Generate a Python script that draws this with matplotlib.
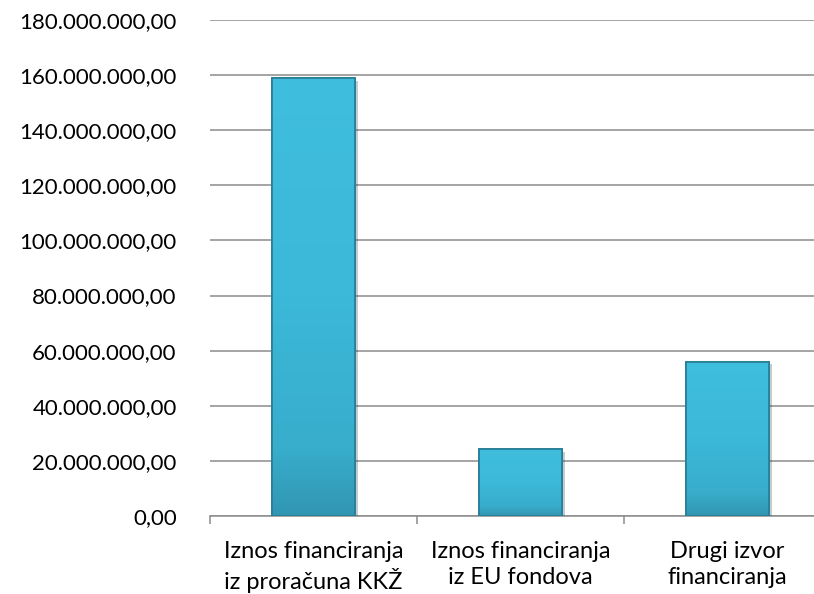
import numpy as np
import matplotlib.pyplot as plt
import matplotlib.patheffects as pe
from matplotlib.colors import LinearSegmentedColormap
from matplotlib.ticker import FuncFormatter

# data
categories = ["Iznos financiranja\niz proračuna KKŽ",
              "Iznos financiranja\niz EU fondova",
              "Drugi izvor\nfinanciranja"]
values = [158900000, 24400000, 56000000]

plt.rcParams['font.family'] = ['Lato', 'DejaVu Sans']

def fmt(v, pos):
    s = f"{v:,.2f}"
    return s.replace(",", "X").replace(".", ",").replace("X", ".")

fig = plt.figure(figsize=(8.14, 5.94), dpi=100)
ax = fig.add_axes([210/814, 1-516/594, 621/814, 496/594])

x = range(len(categories))
bars = ax.bar(x, values, width=0.4, color="#3CBBDB", edgecolor="#2B7F98",
              linewidth=1.3, zorder=3)

# mostly flat fill, a bit darker towards the base
cmap = LinearSegmentedColormap.from_list(
    "bar", [(0, "#3196B2"), (0.15, "#38ADCC"), (0.5, "#3CB8D8"), (1, "#40BEDE")])
grad = np.linspace(0, 1, 256).reshape(-1, 1)
for b in bars:
    b.set_path_effects([pe.SimplePatchShadow(offset=(2, -2), alpha=0.25), pe.Normal()])
    x0, w, h = b.get_x(), b.get_width(), b.get_height()
    im = ax.imshow(grad, cmap=cmap, origin="lower", aspect="auto",
                   extent=[x0, x0 + w, 0, h], zorder=3.5)
    im.set_clip_path(b)
    ax.bar(b.get_x() + w / 2, h, width=w, fill=False, edgecolor="#2B7F98",
           linewidth=1.3, zorder=4)

ax.set_xlim(-0.5, 2.5)
ax.set_ylim(0, 180000000)
ax.set_yticks(range(0, 180000001, 20000000))
ax.yaxis.set_major_formatter(FuncFormatter(fmt))
ax.yaxis.grid(True, color="#8c8c8c", linewidth=1.1, zorder=0)

ax.set_xticks(list(x))
ax.set_xticklabels(categories, fontsize=17, linespacing=1.3)
ax.set_xticks([-0.5, 0.5, 1.5, 2.5], minor=True)
ax.tick_params(axis="x", which="major", length=0, pad=18)
ax.tick_params(axis="x", which="minor", length=6, color="#8c8c8c", width=1.1)
ax.tick_params(axis="y", length=0, labelsize=16, pad=24)

for s in ["top", "right", "left"]:
    ax.spines[s].set_visible(False)
ax.spines["bottom"].set_color("#8c8c8c")
ax.spines["bottom"].set_linewidth(1.1)

fig.savefig("out.png", dpi=100)
